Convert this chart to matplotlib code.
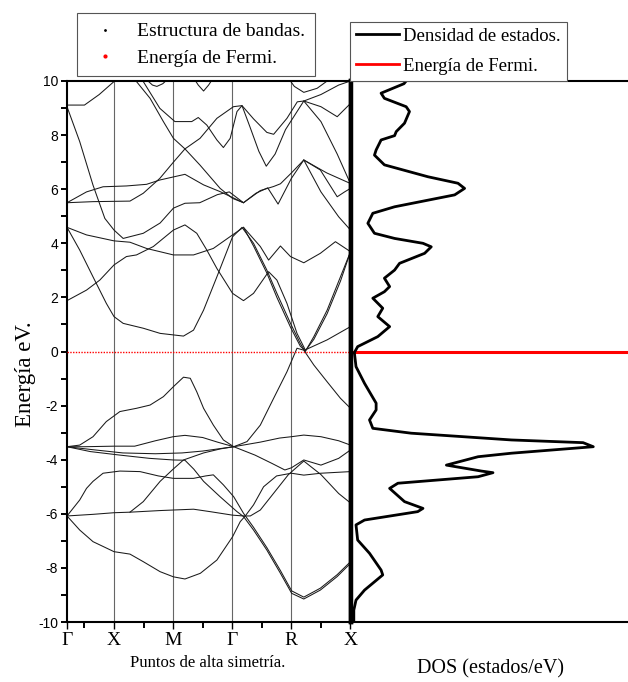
import matplotlib
matplotlib.use("Agg")
import matplotlib.pyplot as plt
from matplotlib.lines import Line2D

plt.rcParams['axes.unicode_minus'] = False
SERIF = ['Liberation Serif', 'DejaVu Serif']
SANS = ['Liberation Sans', 'DejaVu Sans']

# ---------------- data ----------------
# high-symmetry points (positions on the k axis) and labels
kpoint_pos = [0.41, 2, 4, 6, 8, 10]
kpoint_labels = ['Γ', 'X', 'M', 'Γ', 'R', 'X']

# band curves: k positions and energies (eV)
b1_k = [0.41, 0.84, 1.29, 2.0, 2.54, 2.99, 3.56, 4.01, 4.4, 4.92, 5.48, 6.01, 6.27, 6.44, 6.72, 7.06, 7.5, 8.0, 8.42, 9.0, 10.0]
b1_e = [-6.08, -6.6, -7.03, -7.40, -7.49, -7.77, -8.14, -8.33, -8.41, -8.2, -7.71, -6.85, -6.29, -6.08, -5.67, -5.0, -4.6, -4.5, -4.57, -4.5, -4.44]

b2_k = [0.41, 1.2, 2.2, 3.2, 4.0, 4.4, 4.7, 5.03, 5.59, 6.16, 6.38, 6.72, 7.17, 7.63, 8.01, 8.42, 8.98, 9.55, 10.0]
b2_e = [-3.52, -3.7, -3.83, -3.95, -4.01, -4.02, -4.35, -4.8, -5.37, -5.92, -6.1, -6.6, -7.34, -8.2, -8.94, -9.15, -8.82, -8.32, -7.83]

b3_k = [0.41, 1.29, 2.0, 2.54, 3.56, 4.01, 4.69, 5.25, 6.01, 6.38, 6.61, 6.95, 7.40, 7.9, 8.42, 9.0, 9.6, 10.0]
b3_e = [-6.08, -6.02, -5.96, -5.94, -5.88, -5.86, -5.83, -5.92, -6.05, -6.08, -6.08, -5.86, -5.24, -4.55, -4.05, -4.55, -5.25, -5.6]

b4_k = [0.41, 0.84, 1.07, 1.29, 1.63, 2.2, 2.88, 3.5, 4.01, 4.69, 5.1, 5.36, 5.70, 6.05, 6.38, 6.72, 7.17, 7.63, 8.01, 8.42, 8.98, 9.55, 10.0]
b4_e = [-6.08, -5.49, -5.06, -4.8, -4.5, -4.42, -4.44, -4.6, -4.69, -4.69, -4.6, -4.56, -4.93, -5.37, -5.98, -6.5, -7.25, -8.1, -8.85, -9.08, -8.75, -8.25, -7.77]

b5_k = [2.54, 2.99, 3.56, 4.0, 4.35, 5.03, 5.6, 6.05]
b5_e = [-5.94, -5.55, -4.8, -4.35, -4.01, -3.75, -3.6, -3.52]

v1_k = [0.41, 0.84, 1.29, 1.74, 2.2, 2.76, 3.22, 3.67, 4.01, 4.35, 4.58, 4.8, 5.03, 5.36, 5.7, 6.05, 6.5, 6.95, 7.4, 7.85, 8.19, 8.42, 8.76, 9.21, 9.66, 10.0]
v1_e = [-3.52, -3.46, -3.15, -2.59, -2.22, -2.1, -1.98, -1.67, -1.30, -0.95, -0.99, -1.49, -2.1, -2.72, -3.27, -3.52, -3.33, -2.72, -1.73, -0.75, 0.12, 0.05, -0.5, -1.12, -1.73, -2.1]

v2_k = [0.41, 1.0, 2.0, 2.7, 3.4, 4.0, 4.4, 5.0, 5.5, 6.05, 6.95, 7.6, 8.0, 8.42, 9.0, 9.6, 10.0]
v2_e = [-3.52, -3.52, -3.5, -3.5, -3.3, -3.15, -3.1, -3.18, -3.35, -3.52, -3.35, -3.2, -3.15, -3.09, -3.15, -3.3, -3.46]

v3_k = [0.41, 1.2, 2.3, 3.4, 4.3, 5.0, 6.05, 6.77, 7.33, 7.78, 8.0, 8.42, 9.0, 9.6, 10.0]
v3_e = [-3.52, -3.62, -3.75, -3.78, -3.75, -3.68, -3.52, -3.83, -4.13, -4.38, -4.3, -4.01, -4.2, -3.95, -3.64]

cl_k = [0.41, 1.07, 1.52, 2.0, 2.42, 2.76, 3.33, 4.01, 4.4, 4.8, 5.14, 5.48, 6.01, 6.38, 6.72, 7.23, 7.51, 7.85, 8.19, 8.47, 9.21, 10.0]
cl_e = [1.88, 2.27, 2.64, 3.2, 3.51, 3.57, 3.88, 4.49, 4.68, 4.37, 3.75, 3.07, 2.15, 1.88, 2.15, 2.95, 2.64, 1.78, 0.67, 0.06, 0.43, 0.92]

c2_k = [0.41, 1.07, 2.0, 2.54, 3.1, 4.01, 4.69, 5.36, 6.01, 6.38, 6.95, 7.23, 7.63, 7.97, 8.42, 8.98, 9.49, 10.0]
c2_e = [4.59, 4.31, 4.09, 4.04, 3.81, 3.57, 3.57, 3.81, 4.31, 4.59, 3.88, 3.38, 3.9, 3.51, 3.28, 3.63, 4.06, 3.69]

c3_k = [0.41, 0.84, 1.29, 1.74, 2.0, 2.31, 2.99, 3.56, 4.35, 4.69, 5.03, 5.48, 6.01, 6.33, 6.72, 7.17, 7.51, 7.97, 8.3, 8.47, 8.76, 9.21, 9.66, 10.0]
c3_e = [4.59, 3.75, 2.76, 1.78, 1.29, 1.04, 0.86, 0.67, 0.57, 0.79, 1.53, 2.76, 4.24, 4.59, 4.0, 3.01, 2.15, 1.04, 0.3, 0.0, 0.55, 1.53, 2.76, 3.69]

c3b_k = [6.38, 6.72, 7.17, 7.51, 7.97, 8.3, 8.47, 8.76, 9.21, 9.66, 10.0]
c3b_e = [4.59, 3.9, 2.9, 2.0, 0.9, 0.2, 0.02, 0.45, 1.4, 2.6, 3.69]

c4_k = [0.41, 0.84, 1.29, 1.69, 2.0, 2.31, 2.99, 3.56, 4.01, 4.4, 4.9, 5.5, 5.9, 6.38, 6.8, 7.2, 7.55, 8.0, 8.42, 9.0, 9.6, 10.0]
c4_e = [9.05, 7.76, 6.15, 4.92, 4.49, 4.18, 4.37, 4.75, 5.3, 5.48, 5.5, 5.8, 5.9, 5.5, 5.85, 6.05, 5.45, 6.4, 7.08, 5.9, 4.98, 4.49]

g_k = [0.41, 1.07, 1.63, 2.42, 3.1, 3.55, 4.4, 5.03, 5.59, 6.38, 6.95, 7.4, 7.63, 8.0, 8.42, 8.98, 9.55, 9.8, 10.0]
g_e = [5.5, 5.9, 6.09, 6.12, 6.18, 6.34, 6.55, 6.16, 5.91, 5.5, 5.95, 6.1, 6.2, 6.6, 7.08, 6.71, 5.72, 5.9, 6.03]

f_k = [0.41, 1.29, 2.54, 2.99, 3.55, 4.01, 4.4, 4.91, 5.48, 6.04, 6.33, 6.72, 7.17, 7.4, 7.85, 8.2, 8.42, 9.0, 9.55, 10.0]
f_e = [5.5, 5.54, 5.56, 5.85, 6.4, 7.0, 7.49, 7.88, 8.62, 9.05, 9.09, 8.6, 8.1, 8.03, 8.62, 9.23, 9.26, 9.05, 8.68, 9.17]

e_k = [2.76, 3.22, 3.67, 4.01, 4.4, 4.91, 5.59, 6.01, 6.38]
e_e = [9.98, 9.36, 8.5, 7.88, 7.49, 6.89, 6.03, 5.66, 5.5]

d_k = [2.99, 3.55, 4.06, 4.63, 4.85, 5.14, 5.48, 5.7, 5.93, 6.16, 6.33, 6.6, 6.9, 7.15, 7.45, 7.8, 8.42, 9.0, 9.55, 10.0]
d_e = [9.98, 8.99, 8.5, 8.5, 8.65, 8.37, 7.82, 7.54, 7.88, 8.87, 9.09, 8.3, 7.4, 6.85, 7.3, 8.2, 9.26, 8.5, 7.3, 6.2]

c1_k = [0.41, 1.0, 1.5, 2.0, 2.2]
c1_e = [9.11, 9.11, 9.5, 9.98, 10.3]

r2_k = [8.42, 9.0, 9.6, 10.0]
r2_e = [9.26, 9.5, 9.85, 10.0]

r4_k = [8.42, 9.2, 10.0]
r4_e = [7.08, 6.6, 6.21]

t1_k = [3.1, 3.3, 3.45, 3.65, 3.8]
t1_e = [10.05, 9.85, 9.8, 9.9, 10.05]

t2_k = [4.7, 4.85, 5.03, 5.2, 5.35]
t2_e = [10.1, 9.85, 9.63, 9.85, 10.1]

t3_k = [7.9, 8.1, 8.42, 8.87, 9.21, 9.4]
t3_e = [10.1, 9.8, 9.58, 9.73, 10.0, 10.2]

bands = [(b1_k, b1_e), (b2_k, b2_e), (b3_k, b3_e), (b4_k, b4_e), (b5_k, b5_e),
         (v1_k, v1_e), (v2_k, v2_e), (v3_k, v3_e),
         (cl_k, cl_e), (c2_k, c2_e), (c3_k, c3_e), (c3b_k, c3b_e), (c4_k, c4_e),
         (g_k, g_e), (f_k, f_e), (e_k, e_e), (d_k, d_e), (c1_k, c1_e),
         (r2_k, r2_e), (r4_k, r4_e), (t1_k, t1_e), (t2_k, t2_e), (t3_k, t3_e)]

# density of states (energy, DOS value)
dos_energy = [10.0, 9.9, 9.55, 9.36, 9.05, 8.87, 8.44, 8.13, 7.98, 7.82, 7.45, 7.26, 6.9, 6.46, 6.22, 6.03, 5.79,
              5.35, 5.11, 4.74, 4.37, 4.18, 4.0, 3.87, 3.63, 3.26, 3.01, 2.71, 2.4, 2.21, 1.97, 1.6, 1.29,
              0.92, 0.55, 0.18, -0.04, -0.56, -1.18, -1.91, -2.16, -2.53, -2.84, -3.02, -3.27, -3.37, -3.52,
              -3.76, -3.89, -4.2, -4.42, -4.48, -4.63, -4.87, -5.06, -5.55, -5.8, -5.92, -6.23, -6.41, -6.97,
              -7.46, -8.08, -8.26, -8.82, -9.19, -9.56, -10.0]
dos_value = [1.95, 1.87, 1.04, 1.16, 1.95, 2.07, 1.89, 1.59, 1.53, 1.04, 0.86, 0.8, 1.16, 2.74, 3.83, 4.07, 3.71,
             1.53, 0.74, 0.56, 0.8, 1.53, 2.56, 2.86, 2.62, 1.71, 1.53, 1.16, 1.35, 1.16, 0.74, 1.1, 0.92,
             1.35, 0.92, 0.19, 0.07, 0.13, 0.44, 0.86, 0.86, 0.62, 0.74, 2.13, 5.77, 8.37, 8.74,
             5.77, 4.56, 3.41, 4.68, 5.1, 4.56, 1.65, 1.35, 1.89, 2.56, 2.37, 0.44, 0.13, 0.19,
             0.62, 1.04, 1.1, 0.44, 0.13, 0.05, 0.05]

fermi_energy = 0.0

# ---------------- figure ----------------
W, H = 628, 682
fig = plt.figure(figsize=(W / 100, H / 100), dpi=100)

x0, x1, y_top, y_bot = 67, 350.5, 81, 622
ax = fig.add_axes([x0 / W, (H - y_bot) / H, (x1 - x0) / W, (y_bot - y_top) / H])
ax2 = fig.add_axes([x1 / W, (H - y_bot) / H, (W - x1) / W, (y_bot - y_top) / H])

for kx in kpoint_pos[1:-1]:
    ax.axvline(kx, color='#666666', lw=0.8, zorder=1)

for bk, be in bands:
    ax.plot(bk, be, color='#1a1a1a', lw=0.75, zorder=2)

ax.axhline(fermi_energy, color='red', lw=1.0, ls=(0, (1, 1)), zorder=3)

ax.set_xlim(kpoint_pos[0], kpoint_pos[-1])
ax.set_ylim(-10, 10)
ax.set_yticks(range(-10, 11, 2))
ax.set_yticks(range(-9, 10, 2), minor=True)
ax.set_xticks(kpoint_pos)
ax.set_xticklabels(kpoint_labels, family=SERIF, fontsize=14)
ax.set_xticks([1, 3, 5, 7, 9], minor=True)
ax.tick_params(axis='y', which='both', direction='out', length=4.5, width=1.4, labelsize=10, pad=2)
for lab in ax.get_yticklabels():
    lab.set_family(SANS)
ax.tick_params(axis='x', which='major', direction='out', length=5, width=1.0, pad=2)
ax.tick_params(axis='x', which='minor', direction='out', length=4.5, width=1.4)
for s in ['left', 'bottom', 'top']:
    ax.spines[s].set_linewidth(1.5)
ax.spines['right'].set_linewidth(3.2)

# DOS panel
ax2.plot(dos_value, dos_energy, color='black', lw=2.0, zorder=3)
ax2.axhline(fermi_energy, color='red', lw=2.2, zorder=2)
ax2.set_xlim(-0.07, 10.0)
ax2.set_ylim(-10, 10)
ax2.set_xticks([])
ax2.set_yticks([])
ax2.spines['right'].set_visible(False)
ax2.spines['left'].set_linewidth(3.2)
ax2.spines['top'].set_linewidth(1.5)
ax2.spines['bottom'].set_linewidth(1.5)

# labels
fig.text(25 / W, 1 - 374 / H, 'Energía eV.', rotation=90, ha='center', va='center',
         family=SERIF, fontsize=16.5)
fig.text(208 / W, 1 - 663 / H, 'Puntos de alta simetría.', ha='center', va='center',
         family=SERIF, fontsize=12)
fig.text(490 / W, 1 - 669 / H, 'DOS (estados/eV)', ha='center', va='center',
         family=SERIF, fontsize=14.5)

# legends
h1 = [Line2D([], [], ls='none', marker='.', color='black', markersize=2),
      Line2D([], [], ls='none', marker='.', color='red', markersize=4)]
leg1 = fig.legend(h1, ['Estructura de bandas.', 'Energía de Fermi.'], loc='upper left',
                  bbox_to_anchor=(77 / W, 1 - 13 / H), prop={'family': SERIF, 'size': 14},
                  frameon=True, fancybox=False, edgecolor='#555555', framealpha=1,
                  borderaxespad=0, handlelength=1.9, handletextpad=0.7, borderpad=0.5,
                  labelspacing=0.45)
leg1.get_frame().set_linewidth(0.8)

h2 = [Line2D([], [], color='black', lw=2), Line2D([], [], color='red', lw=2)]
leg2 = fig.legend(h2, ['Densidad de estados.', 'Energía de Fermi.'], loc='upper left',
                  bbox_to_anchor=(350 / W, 1 - 22 / H), prop={'family': SERIF, 'size': 13.5},
                  frameon=True, fancybox=False, edgecolor='#555555', framealpha=1,
                  borderaxespad=0, handlelength=2.3, handletextpad=0.25, borderpad=0.3,
                  labelspacing=0.7)
leg2.get_frame().set_linewidth(0.8)

fig.savefig('out.png', dpi=100)
